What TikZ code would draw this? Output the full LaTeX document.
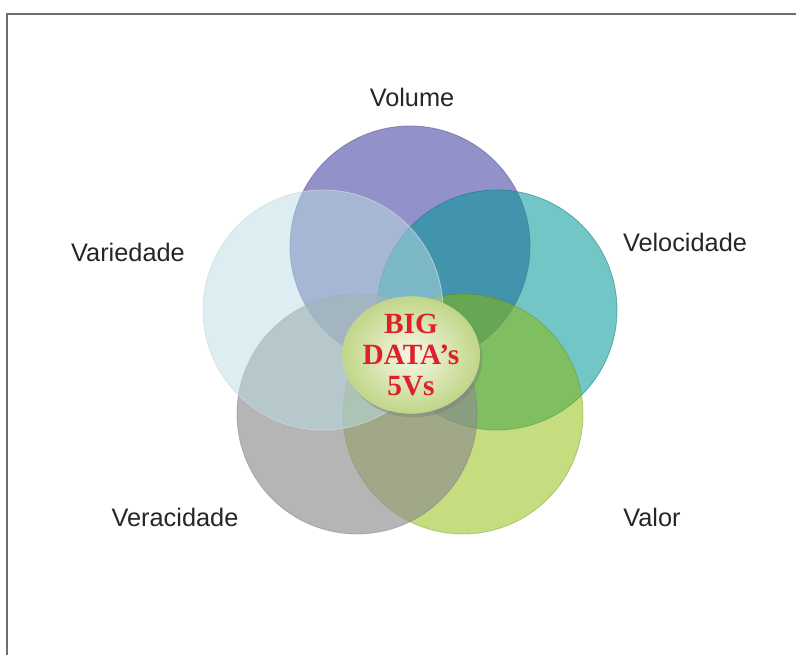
\documentclass[tikz,border=0pt]{standalone}
\usepackage{fontspec}
\setmainfont{Liberation Sans}
\newfontfamily\titlefont{Liberation Serif}
\usetikzlibrary{positioning,shapes.geometric,shadows}
\definecolor{volcol}{RGB}{128,126,192}
\definecolor{velcol}{RGB}{0,151,151}
\definecolor{varcol}{RGB}{185,221,227}
\definecolor{vercol}{RGB}{141,141,141}
\definecolor{valcol}{RGB}{140,185,0}
\definecolor{bigred}{RGB}{222,32,42}
\definecolor{framegray}{RGB}{110,110,110}
\tikzset{
  vcircle/.style={circle, minimum size=180pt, inner sep=0pt, line width=0.6pt},
  vlbl/.style={font=\fontsize{19}{22}\selectfont, text=black!85, anchor=base,
               inner sep=0pt},
  hub/.style={ellipse, minimum width=103pt, minimum height=85pt, inner sep=0pt,
              align=center, inner color={rgb,255:red,248;green,248;blue,230},
              outer color={rgb,255:red,192;green,214;blue,136},
              draw={rgb,255:red,196;green,212;blue,150}, line width=0.5pt,
              drop shadow={shadow xshift=2pt, shadow yshift=-3pt, opacity=0.45},
              font=\titlefont\bfseries\fontsize{22}{23.5}\selectfont,
              text=bigred}
}

\begin{document}
\begin{tikzpicture}[x=0.75pt, y=-0.75pt]
  \useasboundingbox (0,0) rectangle (796,655);
  % page frame, cut off at the right and bottom
  \draw[framegray, line width=1.2pt] (7,655) -- (7,14) -- (796,14);

  % the five Vs, bottom to top
  \node[vcircle, fill=volcol, fill opacity=0.85, draw=volcol!75!black, draw opacity=0.6]
    (vol) at (410,246) {};
  \node[vcircle, fill=velcol, fill opacity=0.55, draw=velcol!80!black, draw opacity=0.5]
    (vel) at (497,310) {};
  \node[vcircle, fill=valcol, fill opacity=0.5, draw=valcol!70!black, draw opacity=0.35]
    (val) at (463,414) {};
  \node[vcircle, fill=vercol, fill opacity=0.65, draw=vercol!80!black, draw opacity=0.4]
    (ver) at (357,414) {};
  \node[vcircle, fill=varcol, fill opacity=0.5, draw=white!70!gray, draw opacity=0.7]
    (var) at (323,310) {};

  \node[hub] (core) at (411,355) {BIG\\DATA’s\\5Vs};

  % labels
  \node[vlbl] (volname) at (412,107) {Volume};
  \node[vlbl] (velname) at (685,252) {Velocidade};
  \node[vlbl] (varname) at (128,262) {Variedade};
  \node[vlbl] (vername) at (175,527) {Veracidade};
  \node[vlbl] (valname) at (652,527) {Valor};
\end{tikzpicture}
\end{document}
